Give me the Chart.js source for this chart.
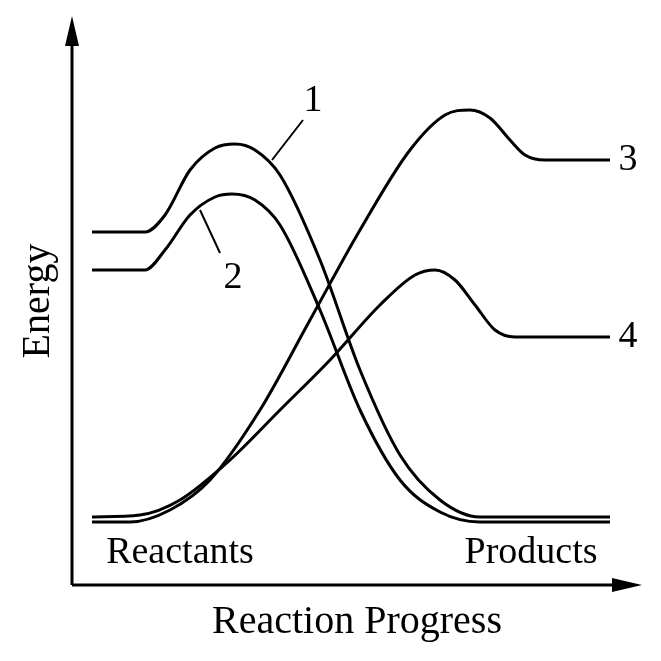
<!DOCTYPE html>
<html><head><meta charset="utf-8">
<script src="https://cdn.jsdelivr.net/npm/chart.js@4"></script>
<style>html,body{margin:0;background:#fff}#wrap{width:661px;height:661px}</style>
</head><body><div id="wrap"><canvas id="c"></canvas></div>
<script>
// reaction progress (x) and energy (y) for the four profiles
const curve1 = [[92,429],[145,429],[165,446],[190,491],[215,513],[235,517],[255,511],[280,486],[320,401],[360,291],[400,206],[440,161],[480,144],[610,144]];
const curve2 = [[92,391],[145,391],[165,411],[190,446],[215,464],[232,467],[255,461],[280,436],[320,351],[360,251],[400,181],[440,149],[480,139],[610,139]];
const curve3 = [[92,139],[130,139],[170,151],[210,181],[260,251],[310,341],[360,431],[410,511],[445,546],[470,551],[490,543],[510,521],[525,506],[545,501],[610,501]];
const curve4 = [[92,144],[140,146],[180,161],[230,201],[280,251],[330,301],[380,356],[415,386],[435,391],[455,381],[475,356],[495,331],[515,324],[610,324]];
const curveLabels = ['1', '2', '3', '4'];

const font = '"Liberation Serif", "DejaVu Serif", serif';
const mk = pts => pts.map(p => ({x: p[0], y: p[1]}));

const deco = {
  id: 'deco',
  afterDraw(chart) {
    const {ctx, scales: {x, y}} = chart;
    const px = v => x.getPixelForValue(v), py = v => y.getPixelForValue(v);
    ctx.save();
    ctx.strokeStyle = '#000'; ctx.fillStyle = '#000'; ctx.lineWidth = 3;
    // axes
    ctx.beginPath();
    ctx.moveTo(px(72), py(76)); ctx.lineTo(px(72), py(630));
    ctx.moveTo(px(72), py(76)); ctx.lineTo(px(628), py(76));
    ctx.stroke();
    ctx.beginPath();
    ctx.moveTo(px(72), py(645)); ctx.lineTo(px(65), py(615)); ctx.lineTo(px(79), py(615)); ctx.closePath();
    ctx.moveTo(px(642), py(76)); ctx.lineTo(px(612), py(69)); ctx.lineTo(px(612), py(83)); ctx.closePath();
    ctx.fill();
    // leader lines
    ctx.lineWidth = 2;
    ctx.beginPath();
    ctx.moveTo(px(272), py(501)); ctx.lineTo(px(303), py(541));
    ctx.moveTo(px(200), py(451)); ctx.lineTo(px(220), py(408));
    ctx.stroke();
    ctx.font = '38px ' + font;
    ctx.textAlign = 'center'; ctx.textBaseline = 'middle';
    ctx.fillText(curveLabels[0], px(313), py(560));
    ctx.fillText(curveLabels[1], px(233), py(383));
    ctx.fillText(curveLabels[2], px(628), py(501));
    ctx.fillText(curveLabels[3], px(628), py(324));
    ctx.fillText('Reactants', px(180), py(108));
    ctx.fillText('Products', px(531), py(108));
    ctx.font = '40px ' + font;
    ctx.fillText('Reaction Progress', px(357), py(39));
    ctx.translate(px(38), py(360)); ctx.rotate(-Math.PI / 2);
    ctx.fillText('Energy', 0, 0);
    ctx.restore();
  }
};

const ds = [curve1, curve2, curve3, curve4].map((c, i) => ({
  label: curveLabels[i], data: mk(c), borderColor: '#000', borderWidth: 3,
  pointRadius: 0, cubicInterpolationMode: 'monotone', fill: false
}));

new Chart(document.getElementById('c'), {
  type: 'line',
  data: {datasets: ds},
  options: {
    responsive: true, maintainAspectRatio: false, animation: false,
    layout: {padding: 0},
    plugins: {legend: {display: false}, tooltip: {enabled: false}},
    scales: {
      x: {type: 'linear', min: 0, max: 661, display: false},
      y: {type: 'linear', min: 0, max: 661, display: false}
    }
  },
  plugins: [deco]
});
</script></body></html>
